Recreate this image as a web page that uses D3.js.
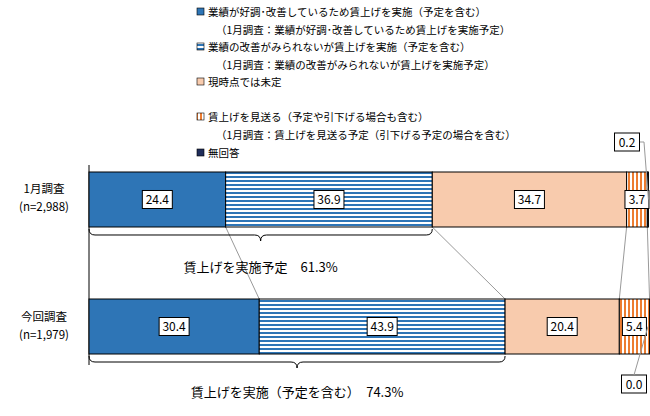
<!DOCTYPE html><html><head><meta charset="utf-8"><script src="https://d3js.org/d3.v7.min.js"></script>
<style>body{margin:0;background:#fff}text{font-family:"Noto Sans CJK JP",sans-serif}</style></head><body><svg id="c" width="650" height="416"></svg>
<script>
const rows=["1月調査","今回調査"];
const ns=["(n=2,988)","(n=1,979)"];
const series=["業績が好調・改善しているため賃上げを実施(予定を含む)","業績の改善がみられないが賃上げを実施(予定を含む)","現時点では未定","賃上げを見送る(予定や引下げる場合も含む)","無回答"];
const values=[[24.4,36.9,34.7,3.7,0.2],[30.4,43.9,20.4,5.4,0.0]];
const totals=["賃上げを実施予定　61.3%","賃上げを実施（予定を含む）　74.3%"];
const legend=[["業績が好調･改善しているため賃上げを実施（予定を含む）",0],["（1月調査：業績が好調･改善しているため賃上げを実施予定）",-1],["業績の改善がみられないが賃上げを実施（予定を含む）",1],["（1月調査：業績の改善がみられないが賃上げを実施予定）",-1],["現時点では未定",2],["",-2],["賃上げを見送る（予定や引下げる場合も含む）",3],["（1月調査：賃上げを見送る予定（引下げる予定の場合を含む）",-1],["無回答",4]];
const svg=d3.select("#c");
const defs=svg.append("defs");
const ph=defs.append("pattern").attr("id","hs").attr("width",4).attr("height",4).attr("patternUnits","userSpaceOnUse");
ph.append("rect").attr("width",4).attr("height",4).attr("fill","#fff");
ph.append("rect").attr("width",4).attr("height",2).attr("fill","#2E75B6");
const pv=defs.append("pattern").attr("id","vs").attr("width",4).attr("height",4).attr("patternUnits","userSpaceOnUse");
pv.append("rect").attr("width",4).attr("height",4).attr("fill","#fff");
pv.append("rect").attr("width",2).attr("height",4).attr("fill","#ED7D31");
const fills=["#2E75B6","url(#hs)","#F8CBAD","url(#vs)","#1F2D5A"];
const x=d3.scaleLinear().domain([0,100]).range([89,649]);
const y=d3.scaleBand().domain(rows).range([172,354]).paddingInner(0.567);
legend.forEach((l,i)=>{const yy=[12,30,47,65,82,100,117,135,153][i];
 if(l[1]>=0)svg.append("rect").attr("x",197).attr("y",yy-4).attr("width",7).attr("height",7).attr("fill",fills[l[1]]).attr("stroke","#000").attr("stroke-width",0.6);
 svg.append("text").attr("x",l[1]>=0?208:216).attr("y",yy+4).attr("font-size",10.5).text(l[0]);});
const cum=values.map(v=>{let c=0;return v.map(d=>c+=d);});
[0,1,2,3].forEach(k=>svg.append("line").attr("x1",x(cum[0][k])).attr("y1",y(rows[0])+y.bandwidth()).attr("x2",x(cum[1][k])).attr("y2",y(rows[1])).attr("stroke","#999").attr("stroke-width",1));
svg.append("line").attr("x1",89).attr("x2",89).attr("y1",165).attr("y2",365).attr("stroke","#000");
values.forEach((v,r)=>{let c=0;const by=y(rows[r]),bh=y.bandwidth();
 v.forEach((d,k)=>{svg.append("rect").attr("x",x(c)).attr("y",by).attr("width",x(c+d)-x(c)).attr("height",bh).attr("fill",fills[k]).attr("stroke","#000").attr("stroke-width",1);
  c+=d;});
 c=0;
 v.forEach((d,k)=>{let cx=x(c+d/2),cy=by+bh/2;
  if(k===4){cx=r===0?627:634;cy=r===0?142:384;}
  const w=k===4?25:(k===3?24:30);
  svg.append("rect").attr("x",cx-w/2).attr("y",cy-9).attr("width",w).attr("height",18).attr("fill","#fff").attr("stroke","#000");
  svg.append("text").attr("x",cx).attr("y",cy+4.5).attr("text-anchor","middle").attr("font-size",12).attr("font-family","Liberation Sans").text(d.toFixed(1));
  c+=d;});
 svg.append("text").attr("x",44).attr("y",by+bh/2-6).attr("text-anchor","middle").attr("font-size",11.5).text(rows[r]);
 svg.append("text").attr("x",44).attr("y",by+bh/2+12).attr("text-anchor","middle").attr("font-size",11.5).text(ns[r]);
 const x2=x(cum[r][1]),yb=by+bh+2,mx=(89+x2)/2;
 svg.append("path").attr("d",`M89,${yb} Q89,${yb+6} 95,${yb+6} L${mx-6},${yb+6} Q${mx},${yb+6} ${mx},${yb+12} Q${mx},${yb+6} ${mx+6},${yb+6} L${x2-6},${yb+6} Q${x2},${yb+6} ${x2},${yb}`).attr("fill","none").attr("stroke","#000");
 svg.append("text").attr("x",mx).attr("y",by+bh+(r===0?45:43)).attr("text-anchor","middle").attr("font-size",13).text(totals[r]);});
svg.append("path").attr("d",`M640,142 L644,142 L${x(99.9)},${y(rows[0])+y.bandwidth()/2}`).attr("fill","none").attr("stroke","#999");
svg.append("line").attr("x1",634).attr("y1",375).attr("x2",x(100)-1).attr("y2",y(rows[1])+y.bandwidth()/2).attr("stroke","#999");
</script></body></html>
